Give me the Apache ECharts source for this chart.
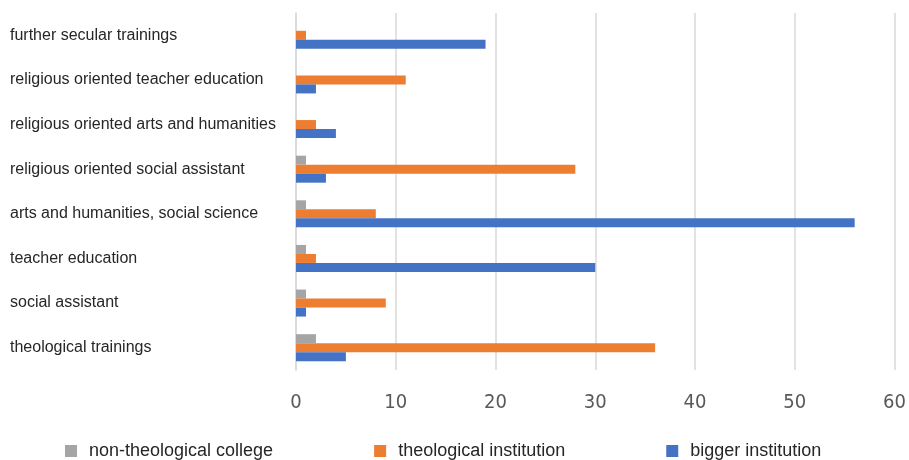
<!DOCTYPE html>
<html>
<head>
<meta charset="utf-8">
<script src="https://cdn.jsdelivr.net/npm/echarts@6/dist/echarts.min.js"></script>
<style>
html, body { margin: 0; padding: 0; background: #fff; }
#chartmain { width: 909px; height: 460px; }
</style>
</head>
<body>
<div id="chartmain"></div>
<script>
// categories listed bottom -> top (category axis starts at the bottom)
var categories = [
	'theological trainings',
	'social assistant',
	'teacher education',
	'arts and humanities, social science',
	'religious oriented social assistant',
	'religious oriented arts and humanities',
	'religious oriented teacher education',
	'further secular trainings'
];
var nonTheological = [2, 1, 1, 1, 1, 0, 0, 0];
var theological = [36, 9, 2, 8, 28, 2, 11, 1];
var bigger = [5, 1, 30, 56, 3, 4, 2, 19];
var seriesNames = ['non-theological college', 'theological institution', 'bigger institution'];
var xTicks = [0, 60, 10]; // min, max, interval

var labelFont = 'Liberation Sans, Arial, sans-serif';

var option = {
	animation : false,
	legend : {
		data : seriesNames,
		left : 65,
		top : 442,
		padding : 0,
		itemWidth : 12,
		itemHeight : 12,
		itemGap : 101,
		icon : 'rect',
		textStyle : {
			fontFamily : labelFont,
			fontSize : 18,
			color : '#262626',
			padding : [0, 0, 0, 7]
		}
	},
	grid : {
		left : 296,
		right : 13,
		top : 13,
		bottom : 90
	},
	xAxis : {
		type : 'value',
		min : xTicks[0],
		max : xTicks[1],
		interval : xTicks[2],
		axisLine : { show : false },
		axisTick : { show : false },
		splitLine : { lineStyle : { color : '#d9d9d9', width : 1.5 } },
		axisLabel : {
			margin : 23,
			color : '#595959',
			fontSize : 20,
			fontFamily : 'Liberation Sans Narrow, DejaVu Sans Condensed, sans-serif'
		}
	},
	yAxis : {
		type : 'category',
		data : categories,
		axisLine : { show : true, lineStyle : { color : '#d9d9d9', width : 1.5 } },
		axisTick : { show : false },
		axisLabel : {
			align : 'left',
			margin : 286,
			color : '#262626',
			fontSize : 16,
			fontFamily : labelFont
		}
	},
	// series order: first one drawn at the top of each group
	series : [ {
		name : seriesNames[0],
		type : 'bar',
		data : nonTheological,
		barWidth : 9,
		barGap : '0%',
		itemStyle : { color : '#a5a5a5' }
	}, {
		name : seriesNames[1],
		type : 'bar',
		data : theological,
		barWidth : 9,
		barGap : '0%',
		itemStyle : { color : '#ed7d31' }
	}, {
		name : seriesNames[2],
		type : 'bar',
		data : bigger,
		barWidth : 9,
		barGap : '0%',
		itemStyle : { color : '#4472c4' }
	} ]
};
var myChart = echarts.init(document.getElementById('chartmain'));
myChart.setOption(option);
</script>
</body>
</html>
